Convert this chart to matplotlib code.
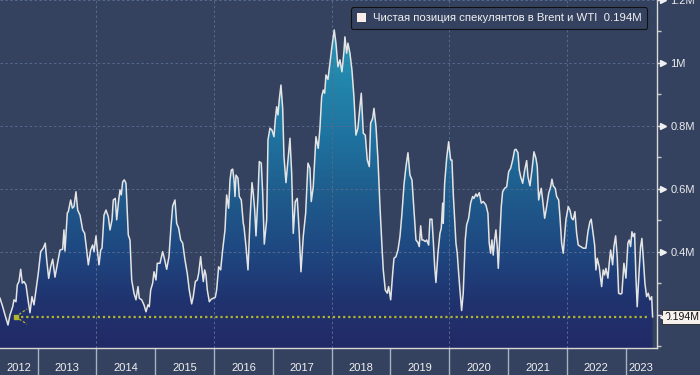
import matplotlib
matplotlib.use('Agg')
import matplotlib.pyplot as plt
import numpy as np
from matplotlib.colors import LinearSegmentedColormap
from matplotlib.patches import Patch

# decimal years / millions of contracts
dates = [
    2012.359, 2012.405, 2012.444, 2012.495, 2012.529, 2012.575, 2012.597, 2012.631, 2012.653, 2012.682,
    2012.711, 2012.738, 2012.767, 2012.801, 2012.840, 2012.869, 2012.903, 2012.937, 2012.971, 2013.010,
    2013.051, 2013.095, 2013.129, 2013.153, 2013.187, 2013.221, 2013.255, 2013.294, 2013.333, 2013.379,
    2013.425, 2013.447, 2013.464, 2013.504, 2013.521, 2013.561, 2013.589, 2013.617, 2013.651, 2013.680,
    2013.720, 2013.765, 2013.799, 2013.833, 2013.861, 2013.901, 2013.935, 2013.958, 2013.992, 2014.014,
    2014.043, 2014.072, 2014.094, 2014.128, 2014.162, 2014.201, 2014.230, 2014.264, 2014.286, 2014.320,
    2014.344, 2014.378, 2014.400, 2014.422, 2014.446, 2014.473, 2014.502, 2014.541, 2014.570, 2014.599,
    2014.638, 2014.672, 2014.706, 2014.728, 2014.769, 2014.808, 2014.842, 2014.876, 2014.898, 2014.922,
    2014.956, 2014.978, 2015.012, 2015.034, 2015.080, 2015.126, 2015.160, 2015.194, 2015.233, 2015.267,
    2015.296, 2015.335, 2015.364, 2015.398, 2015.432, 2015.466, 2015.505, 2015.544, 2015.578, 2015.619,
    2015.646, 2015.681, 2015.715, 2015.738, 2015.772, 2015.794, 2015.817, 2015.840, 2015.862, 2015.885,
    2015.919, 2015.953, 2015.987, 2016.021, 2016.044, 2016.078, 2016.112, 2016.146, 2016.186, 2016.214,
    2016.248, 2016.271, 2016.293, 2016.317, 2016.339, 2016.356, 2016.373, 2016.407, 2016.429, 2016.463,
    2016.497, 2016.509, 2016.543, 2016.577, 2016.611, 2016.645, 2016.667, 2016.691, 2016.713, 2016.747,
    2016.769, 2016.803, 2016.827, 2016.854, 2016.895, 2016.917, 2016.951, 2016.985, 2017.019, 2017.041,
    2017.065, 2017.087, 2017.109, 2017.138, 2017.167, 2017.189, 2017.223, 2017.257, 2017.291, 2017.320,
    2017.347, 2017.381, 2017.415, 2017.449, 2017.478, 2017.517, 2017.558, 2017.597, 2017.631, 2017.653,
    2017.687, 2017.733, 2017.772, 2017.801, 2017.830, 2017.857, 2017.881, 2017.903, 2017.937, 2017.971,
    2018.005, 2018.044, 2018.073, 2018.107, 2018.141, 2018.175, 2018.209, 2018.226, 2018.255, 2018.277,
    2018.311, 2018.345, 2018.379, 2018.413, 2018.447, 2018.470, 2018.504, 2018.538, 2018.572, 2018.606,
    2018.640, 2018.663, 2018.697, 2018.720, 2018.754, 2018.788, 2018.822, 2018.856, 2018.878, 2018.912,
    2018.946, 2018.969, 2019.004, 2019.038, 2019.060, 2019.094, 2019.128, 2019.162, 2019.196, 2019.230,
    2019.264, 2019.298, 2019.332, 2019.366, 2019.400, 2019.434, 2019.468, 2019.490, 2019.514, 2019.536,
    2019.558, 2019.592, 2019.616, 2019.650, 2019.672, 2019.706, 2019.728, 2019.752, 2019.774, 2019.808,
    2019.842, 2019.864, 2019.888, 2019.898, 2019.922, 2019.956, 2019.990, 2020.024, 2020.046, 2020.068,
    2020.092, 2020.114, 2020.136, 2020.160, 2020.182, 2020.211, 2020.238, 2020.272, 2020.296, 2020.330,
    2020.364, 2020.398, 2020.420, 2020.454, 2020.477, 2020.511, 2020.545, 2020.579, 2020.624, 2020.658,
    2020.680, 2020.704, 2020.726, 2020.748, 2020.772, 2020.794, 2020.816, 2020.834, 2020.862, 2020.885,
    2020.908, 2020.942, 2020.977, 2021.011, 2021.045, 2021.079, 2021.112, 2021.135, 2021.169, 2021.191,
    2021.215, 2021.249, 2021.283, 2021.317, 2021.339, 2021.373, 2021.407, 2021.441, 2021.475, 2021.497,
    2021.521, 2021.543, 2021.565, 2021.589, 2021.623, 2021.657, 2021.691, 2021.725, 2021.747, 2021.769,
    2021.803, 2021.827, 2021.861, 2021.883, 2021.912, 2021.939, 2021.985, 2022.024, 2022.053, 2022.082,
    2022.109, 2022.138, 2022.167, 2022.194, 2022.235, 2022.279, 2022.325, 2022.359, 2022.393, 2022.415,
    2022.439, 2022.473, 2022.495, 2022.517, 2022.551, 2022.592, 2022.619, 2022.643, 2022.665, 2022.699,
    2022.721, 2022.745, 2022.779, 2022.801, 2022.830, 2022.857, 2022.881, 2022.915, 2022.937, 2022.971,
    2023.005, 2023.039, 2023.061, 2023.085, 2023.107, 2023.130, 2023.153, 2023.175, 2023.197, 2023.231,
    2023.255, 2023.277, 2023.299, 2023.328, 2023.357, 2023.385, 2023.414, 2023.443, 2023.459,
]
values = [
    0.253, 0.226, 0.200, 0.168, 0.200, 0.226, 0.248, 0.242, 0.295, 0.306,
    0.345, 0.301, 0.306, 0.295, 0.242, 0.207, 0.258, 0.232, 0.279, 0.332,
    0.401, 0.412, 0.428, 0.375, 0.316, 0.353, 0.377, 0.320, 0.359, 0.406,
    0.409, 0.470, 0.403, 0.524, 0.528, 0.565, 0.539, 0.544, 0.591, 0.533,
    0.517, 0.470, 0.459, 0.406, 0.359, 0.406, 0.422, 0.401, 0.451, 0.406,
    0.359, 0.406, 0.412, 0.517, 0.533, 0.512, 0.470, 0.502, 0.565, 0.570,
    0.502, 0.565, 0.597, 0.581, 0.623, 0.629, 0.618, 0.454, 0.438, 0.311,
    0.269, 0.248, 0.290, 0.253, 0.248, 0.232, 0.210, 0.232, 0.226, 0.279,
    0.301, 0.337, 0.311, 0.364, 0.364, 0.401, 0.375, 0.345, 0.385, 0.480,
    0.546, 0.565, 0.491, 0.475, 0.438, 0.428, 0.375, 0.332, 0.279, 0.235,
    0.258, 0.306, 0.311, 0.332, 0.385, 0.343, 0.306, 0.343, 0.327, 0.279,
    0.242, 0.250, 0.253, 0.256, 0.279, 0.353, 0.343, 0.406, 0.470, 0.581,
    0.539, 0.629, 0.660, 0.663, 0.629, 0.576, 0.644, 0.634, 0.576, 0.565,
    0.491, 0.480, 0.417, 0.343, 0.502, 0.620, 0.586, 0.533, 0.451, 0.576,
    0.687, 0.682, 0.586, 0.425, 0.502, 0.756, 0.793, 0.787, 0.766, 0.819,
    0.861, 0.835, 0.883, 0.930, 0.856, 0.703, 0.620, 0.692, 0.761, 0.650,
    0.459, 0.560, 0.570, 0.459, 0.337, 0.449, 0.523, 0.682, 0.666, 0.560,
    0.607, 0.766, 0.729, 0.794, 0.893, 0.914, 0.904, 0.962, 0.948, 0.999,
    1.052, 1.105, 1.063, 0.988, 1.010, 0.972, 1.036, 1.083, 1.031, 1.063,
    1.031, 0.978, 0.893, 0.771, 0.793, 0.840, 0.904, 0.777, 0.771, 0.692,
    0.671, 0.809, 0.824, 0.856, 0.798, 0.692, 0.544, 0.417, 0.343, 0.279,
    0.269, 0.290, 0.248, 0.332, 0.380, 0.385, 0.406, 0.449, 0.523, 0.613,
    0.671, 0.715, 0.644, 0.629, 0.533, 0.438, 0.430, 0.417, 0.483, 0.438,
    0.438, 0.433, 0.438, 0.422, 0.504, 0.504, 0.438, 0.353, 0.303, 0.396,
    0.459, 0.475, 0.555, 0.491, 0.618, 0.697, 0.750, 0.692, 0.692, 0.586,
    0.502, 0.428, 0.396, 0.332, 0.279, 0.214, 0.269, 0.438, 0.486, 0.507,
    0.555, 0.576, 0.570, 0.584, 0.576, 0.588, 0.555, 0.560, 0.549, 0.523,
    0.428, 0.396, 0.438, 0.390, 0.438, 0.470, 0.417, 0.348, 0.459, 0.544,
    0.591, 0.602, 0.607, 0.655, 0.666, 0.692, 0.724, 0.726, 0.715, 0.660,
    0.639, 0.618, 0.660, 0.690, 0.639, 0.610, 0.660, 0.718, 0.697, 0.671,
    0.565, 0.586, 0.602, 0.565, 0.507, 0.544, 0.586, 0.607, 0.631, 0.610,
    0.602, 0.576, 0.565, 0.512, 0.428, 0.396, 0.502, 0.544, 0.533, 0.507,
    0.502, 0.528, 0.459, 0.422, 0.417, 0.412, 0.412, 0.464, 0.496, 0.504,
    0.470, 0.422, 0.343, 0.380, 0.353, 0.290, 0.343, 0.327, 0.348, 0.317,
    0.364, 0.406, 0.359, 0.417, 0.451, 0.385, 0.269, 0.266, 0.269, 0.364,
    0.317, 0.428, 0.438, 0.417, 0.464, 0.449, 0.459, 0.322, 0.226, 0.343,
    0.417, 0.443, 0.385, 0.301, 0.258, 0.269, 0.248, 0.258, 0.194,
]
last_value = 0.194
series_name = 'Чистая позиция спекулянтов в Brent и WTI'
year_labels = ['2012', '2013', '2014', '2015', '2016', '2017', '2018',
               '2019', '2020', '2021', '2022', '2023']
year_label_pos = [2012.68, 2013.5, 2014.5, 2015.5, 2016.5, 2017.5, 2018.5,
                  2019.5, 2020.5, 2021.5, 2022.5, 2023.26]
year_edges = list(range(2013, 2024))
grid_years = [2014, 2016, 2018, 2020, 2022]
y_major = [0.2, 0.4, 0.6, 0.8, 1.0, 1.2]
y_major_labels = ['', '0.4M', '0.6M', '0.8M', '1M', '1.2M']
y_minor = [0.1, 0.3, 0.5, 0.7, 0.9, 1.1]

plt.rcParams['font.family'] = ['Liberation Sans', 'DejaVu Sans']

bg = '#344260'
x0, x1 = 2012.359, 2023.527
y0, y1 = 0.095, 1.2

fig = plt.figure(figsize=(7, 3.75), dpi=100, facecolor=bg)
ax = fig.add_axes([0, 0.072, 0.938, 0.928], facecolor=bg)

# gradient area under the line
fill = ax.fill_between(dates, values, y0, color='none', lw=0)
cmap = LinearSegmentedColormap.from_list(
    'area', [(0, '#222a66'), (0.14, '#20336f'), (0.28, '#1f4680'),
             (0.46, '#1e5c8c'), (0.64, '#1f73a0'), (1, '#279db9')])
grad = np.linspace(0, 1, 256).reshape(-1, 1)
im = ax.imshow(grad, extent=[x0, x1, y0, 1.15], origin='lower', aspect='auto',
               cmap=cmap, zorder=1, interpolation='bilinear')
im.set_clip_path(fill.get_paths()[0], ax.transData)

# grid
for g in grid_years:
    ax.axvline(g, color='#56698f', lw=0.7, ls=(0, (2.5, 2.5)), zorder=2)
for g in y_major[1:]:
    ax.axhline(g, color='#56698f', lw=0.7, ls=(0, (2.5, 2.5)), zorder=2)

ax.plot(dates, values, color='#e4e4e4', lw=1.1, zorder=4)

# last value marker line
ax.plot([2012.623, 2023.357], [last_value, last_value], color='#b3b52c',
        lw=1.6, ls=(0, (1, 1.3)), zorder=3)
ax.plot([2012.623, 2012.818], [last_value, 0.219], color='#b3b52c', lw=0.9,
        ls=(0, (2, 1.5)), zorder=3)
ax.plot([2012.623, 2012.818], [last_value, 0.171], color='#b3b52c', lw=0.9,
        ls=(0, (2, 1.5)), zorder=3)
ax.plot([2012.623], [last_value], marker='s', ms=3, color='#b3b52c', zorder=3)

ax.set_xlim(x0, x1)
ax.set_ylim(y0, y1)

# x axis: year separators + centred year labels
ax.set_xticks(year_edges)
ax.set_xticklabels([])
ax.set_xticks(year_label_pos, labels=year_labels, minor=True)
ax.tick_params(axis='x', which='major', length=19.5, width=1, color='#a9b1c3',
               direction='out')
ax.tick_params(axis='x', which='minor', length=0, pad=11, labelsize=8,
               labelcolor='#f0f0f0')

# y axis on the right
ax.yaxis.tick_right()
ax.set_yticks(y_major, labels=y_major_labels)
ax.set_yticks(y_minor, minor=True)
ax.tick_params(axis='y', which='major', length=4, width=1, color='#e0e0e0',
               pad=6, labelsize=8, labelcolor='#ececec')
ax.tick_params(axis='y', which='minor', length=3, width=1, color='#c8c8c8')
ytr = ax.get_yaxis_transform()
ax.plot([1.009] * 5, y_major[1:], ls='none', marker='>', ms=4.5, color='#f0f0f0',
        transform=ytr, clip_on=False, zorder=5)

for side in ['left', 'top']:
    ax.spines[side].set_visible(False)
for side in ['right', 'bottom']:
    ax.spines[side].set_color('#d8d8d8')
    ax.spines[side].set_linewidth(1)

# last value tag
ax.text(1.012, last_value, f'{last_value}M', transform=ytr, ha='left', va='center',
        fontsize=7.6, color='#111111', zorder=6,
        bbox=dict(boxstyle='square,pad=0.2', fc='#f6f1ec', ec='#222222', lw=0.6))
ax.plot([1.009], [last_value], marker='<', ms=5, color='#f6f1ec', transform=ytr,
        clip_on=False, zorder=7)

leg = ax.legend(handles=[Patch(facecolor='#fbeeea', edgecolor='none')],
                labels=[f'{series_name}  {last_value}M'],
                loc='upper center', bbox_to_anchor=(0.76, 0.995), fontsize=8.2,
                handlelength=0.8, handleheight=0.8, handletextpad=0.6,
                frameon=True, facecolor=bg, edgecolor='#111111', framealpha=1,
                fancybox=True, borderpad=0.5, labelcolor='#f0f0f0')
leg.get_frame().set_linewidth(0.8)
leg.set_zorder(8)

fig.savefig('out.png', dpi=100, facecolor=bg)
